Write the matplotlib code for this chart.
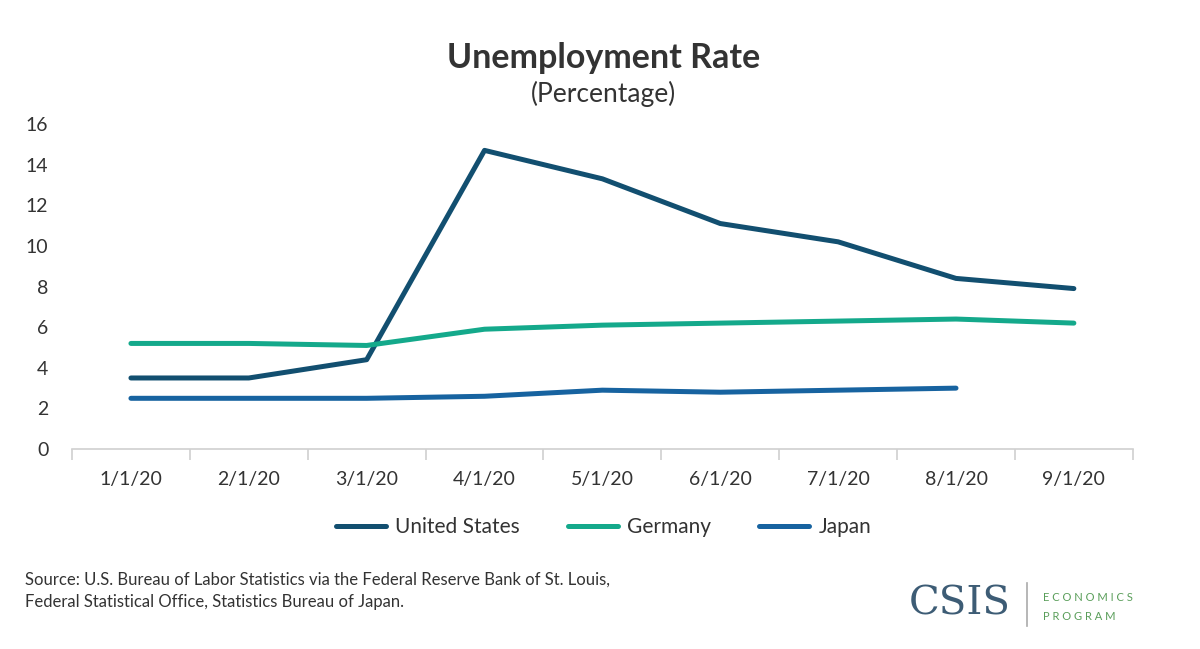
import matplotlib
matplotlib.use("Agg")
import matplotlib.pyplot as plt

# Monthly unemployment rate, 2020 (percent)
months = ["1/1/20", "2/1/20", "3/1/20", "4/1/20", "5/1/20",
          "6/1/20", "7/1/20", "8/1/20", "9/1/20"]
us_rate = [3.5, 3.5, 4.4, 14.7, 13.3, 11.1, 10.2, 8.4, 7.9]
germany_rate = [5.2, 5.2, 5.1, 5.9, 6.1, 6.2, 6.3, 6.4, 6.2]
japan_rate = [2.5, 2.5, 2.5, 2.6, 2.9, 2.8, 2.9, 3.0]

series_names = ["United States", "Germany", "Japan"]
series_colors = ["#124f70", "#14a98b", "#1763a0"]

TEXT = "#333333"
plt.rcParams["font.family"] = ["Lato", "DejaVu Sans"]

fig = plt.figure(figsize=(12, 6.49), dpi=100)
ax = fig.add_axes([0.06, 0.308, 0.884, 0.501])

x = list(range(len(months)))
for name, vals, color in zip(series_names,
                             [us_rate, germany_rate, japan_rate],
                             series_colors):
    ax.plot(x[:len(vals)], vals, color=color, lw=3.6,
            solid_capstyle="round", solid_joinstyle="round", label=name)

ax.set_xlim(-0.5, len(months) - 0.5)
ax.set_ylim(0, 16)
ax.set_yticks(range(0, 17, 2))
ax.set_xticks(x)
ax.set_xticklabels(months)
ax.set_xticks([i - 0.5 for i in range(len(months) + 1)], minor=True)
ax.tick_params(axis="x", which="major", length=0, pad=16,
               labelsize=14, labelcolor=TEXT)
ax.tick_params(axis="x", which="minor", length=8, width=1.2,
               color="#d0d0d0", direction="out")
ax.tick_params(axis="y", length=0, pad=17, labelsize=14, labelcolor=TEXT)
for side in ["top", "right", "left"]:
    ax.spines[side].set_visible(False)
ax.spines["bottom"].set_color("#d0d0d0")
ax.spines["bottom"].set_linewidth(1.2)

fig.legend(loc="center", bbox_to_anchor=(0.503, 0.188), ncol=3,
           frameon=False, fontsize=15, handlelength=2.4,
           handletextpad=0.45, columnspacing=2.3, labelcolor=TEXT)

fig.text(0.503, 0.91, "Unemployment Rate", ha="center", va="center",
         fontsize=24.5, fontweight="bold", color=TEXT)
fig.text(0.503, 0.855, "(Percentage)", ha="center", va="center",
         fontsize=19, color=TEXT)

fig.text(0.021, 0.09, "Source: U.S. Bureau of Labor Statistics via the "
         "Federal Reserve Bank of St. Louis,\nFederal Statistical Office, "
         "Statistics Bureau of Japan.", ha="left", va="center",
         fontsize=12, color=TEXT, linespacing=1.45)

# CSIS logo
fig.text(0.8, 0.07, "CSIS", ha="center", va="center", fontsize=29,
         family="DejaVu Serif", color="#3d5c75")
fig.add_artist(plt.Line2D([0.856, 0.856], [0.035, 0.102],
                          color="#aaaaaa", lw=1.2))
fig.text(0.869, 0.08, "E C O N O M I C S", ha="left", va="center",
         fontsize=8, color="#5a9e5a")
fig.text(0.869, 0.05, "P R O G R A M", ha="left", va="center",
         fontsize=8, color="#5a9e5a")

fig.savefig("out.png", dpi=100, facecolor="white")
